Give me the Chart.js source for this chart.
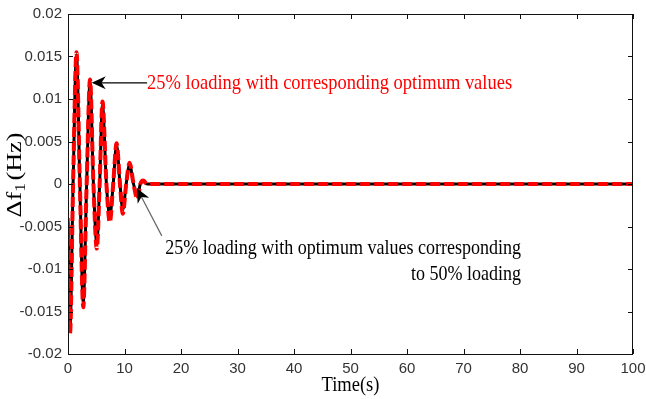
<!DOCTYPE html>
<html><head><meta charset="utf-8">
<script src="https://cdn.jsdelivr.net/npm/chart.js@4/dist/chart.umd.min.js"></script>
<style>html,body{margin:0;padding:0;background:#fff}</style>
</head><body>
<canvas id="c" width="646" height="399"></canvas>
<script>
// ---- data ----
const time        = [0, 0.35, 0.9, 1.5, 2.1, 2.7, 3.3, 3.9, 4.5, 5.1, 5.6, 6.1, 6.8, 7.4, 8.0, 8.6, 9.2, 9.7, 10.3, 10.9, 11.6, 12.3, 12.8, 13.3, 14, 100];
const redValues   = [-0.0045, -0.0176, 0, 0.0155, 0, -0.0145, 0, 0.0123, 0, -0.0076, 0, 0.0097, 0, -0.0045, 0, 0.0048, 0, -0.0035, 0, 0.0025, 0, -0.0018, 0, 0.0004, 0, 0];
const blackValues = [-0.0040, -0.0172, 0, 0.0152, 0, -0.0140, 0, 0.0120, 0, -0.0070, 0, 0.0093, 0, -0.0038, 0, 0.0046, 0, -0.0030, 0, 0.0023, 0, -0.0014, 0, 0.0003, 0, 0];
const xTicks = [0, 10, 20, 30, 40, 50, 60, 70, 80, 90, 100];
const yTicks = [-0.02, -0.015, -0.01, -0.005, 0, 0.005, 0.01, 0.015, 0.02];
const xTitle = 'Time(s)';
const redLabel = '25% loading with corresponding optimum values';
const blackLabel = ['25% loading with optimum values corresponding', 'to 50% loading'];
// annotation anchors in data units
const redArrow   = {tip: [4.2, 0.0119], tail: [14.0, 0.0119]};
const blackArrow = {tip: [12.2, -0.0005], tail: [16.6, -0.0061]};
const redTextAt   = [14.0, 0.0118];
const blackTextAt = [80.2, -0.0075, -0.0106];

const toXY = (vals) => time.map((t, i) => ({x: t, y: vals[i]}));

function compressedText(ctx, str, x, y, font, color, targetW, align) {
  ctx.save();
  ctx.font = font;
  ctx.fillStyle = color;
  ctx.textBaseline = 'middle';
  ctx.textAlign = 'left';
  const w = ctx.measureText(str).width;
  const sx = targetW / w;
  ctx.translate(x, y);
  ctx.scale(sx, 1);
  ctx.fillText(str, align === 'right' ? -w : (align === 'center' ? -w / 2 : 0), 0);
  ctx.restore();
}

function arrowHead(ctx, tx, ty, fx, fy, len, half, color) {
  const a = Math.atan2(ty - fy, tx - fx);
  ctx.save();
  ctx.translate(tx, ty);
  ctx.rotate(a);
  ctx.fillStyle = color;
  ctx.beginPath();
  ctx.moveTo(0, 0);
  ctx.lineTo(-len, -half);
  ctx.lineTo(-len * 0.7, 0);
  ctx.lineTo(-len, half);
  ctx.closePath();
  ctx.fill();
  ctx.restore();
}

const decor = {
  id: 'decor',
  afterDraw(chart) {
    const {ctx, chartArea: ca, scales} = chart;
    const xs = scales.x, ys = scales.y;
    ctx.save();
    // frame
    ctx.strokeStyle = '#111';
    ctx.lineWidth = 1;
    ctx.strokeRect(ca.left + 0.5, ca.top + 0.5, ca.right - ca.left - 1, ca.bottom - ca.top);
    // inward ticks
    ctx.beginPath();
    xTicks.forEach(v => {
      const p = Math.round(xs.getPixelForValue(v)) + 0.5;
      ctx.moveTo(p, ca.bottom); ctx.lineTo(p, ca.bottom - 5);
      ctx.moveTo(p, ca.top); ctx.lineTo(p, ca.top + 5);
    });
    yTicks.forEach(v => {
      const p = Math.round(ys.getPixelForValue(v)) + 0.5;
      ctx.moveTo(ca.left, p); ctx.lineTo(ca.left + 5, p);
      ctx.moveTo(ca.right, p); ctx.lineTo(ca.right - 5, p);
    });
    ctx.stroke();

    // red annotation arrow
    const rt = [xs.getPixelForValue(redArrow.tip[0]), ys.getPixelForValue(redArrow.tip[1])];
    const rf = [xs.getPixelForValue(redArrow.tail[0]), ys.getPixelForValue(redArrow.tail[1])];
    ctx.strokeStyle = '#000';
    ctx.lineWidth = 1.2;
    ctx.beginPath(); ctx.moveTo(rf[0], rf[1]); ctx.lineTo(rt[0] + 8, rt[1]); ctx.stroke();
    arrowHead(ctx, rt[0], rt[1], rf[0], rf[1], 14, 6.5, '#000');

    // black annotation arrow
    const bt = [xs.getPixelForValue(blackArrow.tip[0]), ys.getPixelForValue(blackArrow.tip[1])];
    const bf = [xs.getPixelForValue(blackArrow.tail[0]), ys.getPixelForValue(blackArrow.tail[1])];
    ctx.strokeStyle = '#666';
    ctx.lineWidth = 1.2;
    ctx.beginPath(); ctx.moveTo(bf[0], bf[1]); ctx.lineTo(bt[0], bt[1]); ctx.stroke();
    arrowHead(ctx, bt[0], bt[1], bf[0], bf[1], 14, 6.5, '#000');

    // texts
    const serif = '"Liberation Serif", "Times New Roman", serif';
    compressedText(ctx, redLabel, xs.getPixelForValue(redTextAt[0]), ys.getPixelForValue(redTextAt[1]),
      '22px ' + serif, '#ff0000', 365, 'left');
    const bx = xs.getPixelForValue(blackTextAt[0]);
    compressedText(ctx, blackLabel[0], bx, ys.getPixelForValue(blackTextAt[1]), '22px ' + serif, '#000', 356, 'right');
    const w0 = (() => { ctx.font = '22px ' + serif; return ctx.measureText(blackLabel[0]).width; })();
    const k = 356 / w0;
    ctx.font = '22px ' + serif;
    const w1 = ctx.measureText(blackLabel[1]).width * k;
    compressedText(ctx, blackLabel[1], bx, ys.getPixelForValue(blackTextAt[2]), '22px ' + serif, '#000', w1, 'right');

    // x title
    compressedText(ctx, xTitle, (ca.left + ca.right) / 2, 386, '20px ' + serif, '#000', 58, 'center');

    // y title  Δf1(Hz) with subscript
    ctx.save();
    ctx.translate(14, (ca.top + ca.bottom) / 2 - 9);
    ctx.rotate(-Math.PI / 2);
    const big = '21px ' + serif, small = '14px ' + serif;
    ctx.font = big; const wa = ctx.measureText('\u0394f').width;
    ctx.font = small; const wb = ctx.measureText('1').width;
    ctx.font = big; const wc = ctx.measureText('(Hz)').width;
    const total = wa + wb + 2 + wc;
    const s = 85 / total;
    ctx.scale(s, 1);
    let x0 = -total / 2;
    ctx.fillStyle = '#000';
    ctx.textBaseline = 'alphabetic';
    ctx.font = big; ctx.fillText('\u0394f', x0, 7); x0 += wa;
    ctx.font = small; ctx.fillText('1', x0, 11); x0 += wb + 2;
    ctx.font = big; ctx.fillText('(Hz)', x0, 7);
    ctx.restore();

    ctx.restore();
  }
};

new Chart(document.getElementById('c'), {
  type: 'line',
  data: {
    datasets: [
      {label: '25% loading with corresponding optimum values', data: toXY(redValues),
       borderColor: '#ff0000', borderWidth: 4, borderDash: [10, 4], pointRadius: 0,
       cubicInterpolationMode: 'monotone', fill: false},
      {label: '25% loading with optimum values corresponding to 50% loading', data: toXY(blackValues),
       borderColor: '#000000', borderWidth: 3, pointRadius: 0,
       cubicInterpolationMode: 'monotone', fill: false}
    ]
  },
  options: {
    responsive: false,
    animation: false,
    devicePixelRatio: 1,
    layout: {padding: {top: 14, right: 13, left: 0, bottom: 0}},
    plugins: {legend: {display: false}, tooltip: {enabled: false}},
    scales: {
      x: {
        type: 'linear', min: 0, max: 100,
        afterBuildTicks: (sc) => { sc.ticks = xTicks.map(v => ({value: v})); },
        ticks: {color: '#333', font: {family: '"Liberation Sans", Arial, sans-serif', size: 15}, padding: 6, maxRotation: 0},
        grid: {display: false, drawTicks: false},
        border: {display: false},
        afterFit: (sc) => { sc.height = 45; sc.paddingLeft = 0; sc.paddingRight = 0; }
      },
      y: {
        type: 'linear', min: -0.02, max: 0.02,
        afterBuildTicks: (sc) => { sc.ticks = yTicks.map(v => ({value: v})); },
        ticks: {color: '#333', font: {family: '"Liberation Sans", Arial, sans-serif', size: 15}, padding: 6,
                callback: (v) => String(+(+v).toFixed(3))},
        grid: {display: false, drawTicks: false},
        border: {display: false},
        afterFit: (sc) => { sc.width = 68; sc.paddingTop = 0; sc.paddingBottom = 0; }
      }
    }
  },
  plugins: [decor]
});
</script>
</body></html>
